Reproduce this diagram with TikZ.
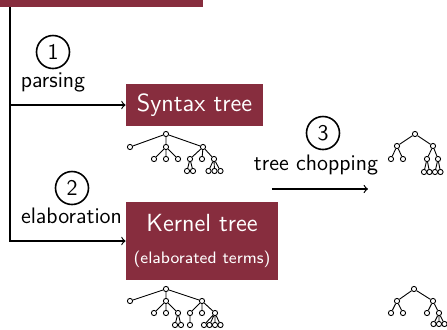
\documentclass[tikz,border=0pt]{standalone}
\usepackage{fontspec}
\definecolor{boxred}{RGB}{135,45,62}
\begin{document}
\begin{tikzpicture}[x=0.5pt,y=-0.5pt,
  redbox/.style={fill=boxred, text=white, inner sep=0pt, align=center, font=\sffamily\fontsize{12.4}{15}\selectfont},
  lbl/.style={font=\sffamily\fontsize{11.2}{13}\selectfont, inner sep=0pt, anchor=base},
  num/.style={circle, draw, line width=0.8pt, minimum size=16.5pt, inner sep=0pt, font=\sffamily\fontsize{11.2}{13}\selectfont},
  tn/.style={circle, draw, fill=white, line width=0.45pt, minimum size=2.6pt, inner sep=0pt},
  te/.style={line width=0.45pt},
  conn/.style={line width=0.6pt},
  arr/.style={conn, ->}]
\useasboundingbox (0,0) rectangle (447,329);
\clip (0,0) rectangle (447,329);

% boxes
\node[fill=boxred, minimum width=106.5pt, minimum height=18.5pt, inner sep=0pt] (top) at (96.5,-11.5) {};
\node[redbox, minimum width=68.5pt, minimum height=21pt] (syntax) at (194.5,105) {Syntax tree};
\node[redbox, minimum width=76pt, minimum height=39pt] (kernel) at (202,241)
  {Kernel tree\\[1pt]{\fontsize{8.3}{10}\selectfont (elaborated terms)}};

% connectors
\coordinate (vx) at (10,0);
\coordinate (v1) at (10,105);
\draw[conn,->] (top.south -| vx) |- (kernel.west);
\draw[arr] (v1) -- (syntax.west);
\coordinate (c3a) at (272,189);
\coordinate (c3b) at (368,189);
\draw[arr] (c3a) -- (c3b);

% labels
\node[num] (n1) at (53,52) {1};
\node[lbl] (l1) at (53,87) {parsing};
\node[num] (n2) at (72,188) {2};
\node[lbl] (l2) at (71.5,223) {elaboration};
\node[num] (n3) at (323,133) {3};
\node[lbl] (l3) at (316,170) {tree chopping};

% syntax tree
\node[tn] (s) at (166,134) {};
\node[tn] (sa) at (130,147) {};
\node[tn] (sb) at (166,147) {};
\node[tn] (sc) at (203,147) {};
\node[tn] (sb1) at (154,159) {};
\node[tn] (sb2) at (166,159) {};
\node[tn] (sb3) at (178,159) {};
\node[tn] (sc1) at (190,159) {};
\node[tn] (sc2) at (202,159) {};
\node[tn] (sc3) at (214,159) {};
\node[tn] (sc11) at (187,171) {};
\node[tn] (sc12) at (193,171) {};
\node[tn] (sc31) at (208.5,171) {};
\node[tn] (sc32) at (214.5,171) {};
\node[tn] (sc33) at (220.5,171) {};
\draw[te] (s)--(sa) (s)--(sb) (s)--(sc) (sb)--(sb1) (sb)--(sb2) (sb)--(sb3)
  (sc)--(sc1) (sc)--(sc2) (sc)--(sc3) (sc1)--(sc11) (sc1)--(sc12)
  (sc3)--(sc31) (sc3)--(sc32) (sc3)--(sc33);

% kernel tree
\node[tn] (k) at (166,289) {};
\node[tn] (ka) at (130,301) {};
\node[tn] (kb) at (166,301) {};
\node[tn] (kc) at (202,301) {};
\node[tn] (kb1) at (154,313) {};
\node[tn] (kb2) at (166,313) {};
\node[tn] (kb3) at (178,313) {};
\node[tn] (kb31) at (175,325) {};
\node[tn] (kb32) at (181,325) {};
\node[tn] (kc1) at (190,313) {};
\node[tn] (kc2) at (202,313) {};
\node[tn] (kc3) at (215,313) {};
\node[tn] (kc11) at (190,325) {};
\node[tn] (kc31) at (204,325) {};
\node[tn] (kc32) at (209.5,325) {};
\node[tn] (kc33) at (215,325) {};
\node[tn] (kc34) at (220.5,325) {};
\draw[te] (k)--(ka) (k)--(kb) (k)--(kc) (kb)--(kb1) (kb)--(kb2) (kb)--(kb3)
  (kb3)--(kb31) (kb3)--(kb32) (kc)--(kc1) (kc)--(kc2) (kc)--(kc3) (kc1)--(kc11)
  (kc3)--(kc31) (kc3)--(kc32) (kc3)--(kc33) (kc3)--(kc34);

% chopped tree, top right
\node[tn] (t) at (415,134) {};
\node[tn] (tl) at (397,146) {};
\node[tn] (tr) at (433,146) {};
\node[tn] (tl1) at (391,159) {};
\node[tn] (tl2) at (403,159) {};
\node[tn] (tr1) at (427,159) {};
\node[tn] (tr2) at (438,159) {};
\node[tn] (tr11) at (424,172) {};
\node[tn] (tr12) at (429.5,172) {};
\node[tn] (tr21) at (435,172) {};
\node[tn] (tr22) at (440.5,172) {};
\draw[te] (t)--(tl) (t)--(tr) (tl)--(tl1) (tl)--(tl2) (tr)--(tr1) (tr)--(tr2)
  (tr1)--(tr11) (tr1)--(tr12) (tr2)--(tr21) (tr2)--(tr22);

% chopped tree, bottom right
\node[tn] (u) at (414,289) {};
\node[tn] (ul) at (397,301) {};
\node[tn] (ur) at (433,301) {};
\node[tn] (ul1) at (391,313) {};
\node[tn] (ul2) at (403,313) {};
\node[tn] (ur1) at (427,313) {};
\node[tn] (ur2) at (439,313) {};
\node[tn] (ur21) at (433.5,324) {};
\node[tn] (ur22) at (439,324) {};
\node[tn] (ur23) at (444.5,324) {};
\draw[te] (u)--(ul) (u)--(ur) (ul)--(ul1) (ul)--(ul2) (ur)--(ur1) (ur)--(ur2)
  (ur2)--(ur21) (ur2)--(ur22) (ur2)--(ur23);
\end{tikzpicture}
\end{document}
